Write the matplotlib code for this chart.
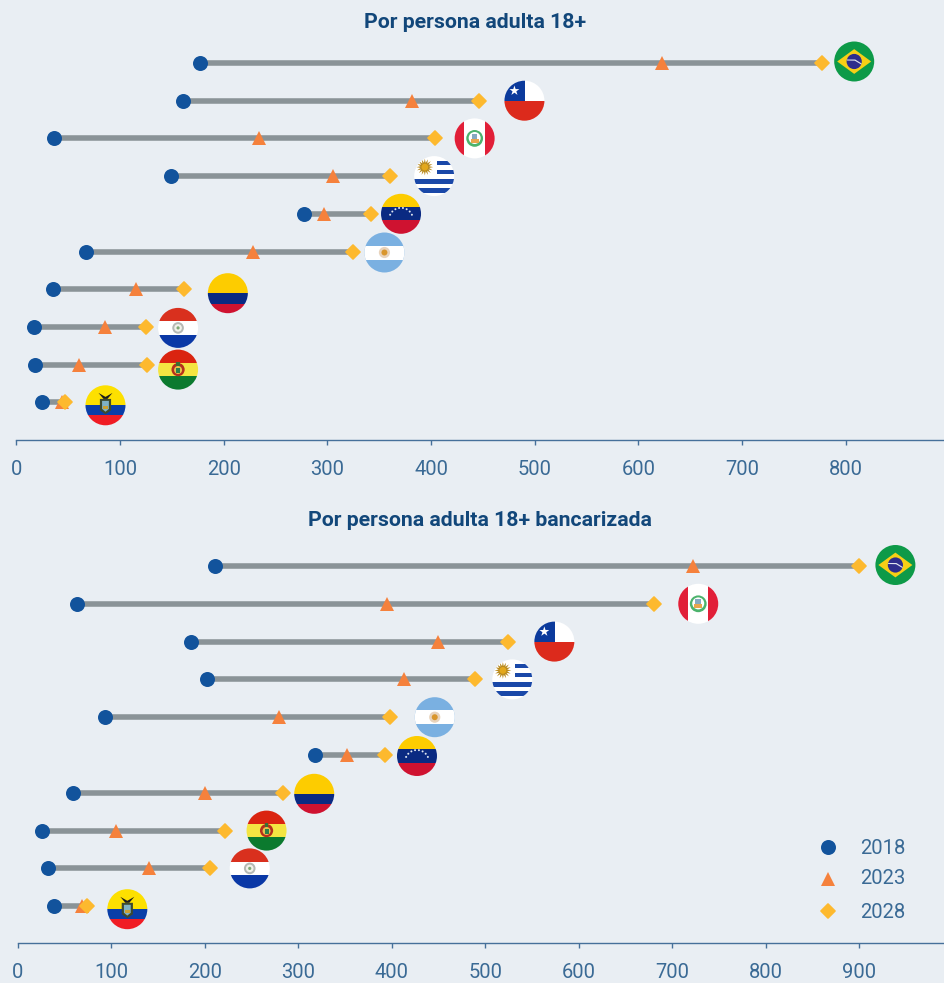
import numpy as np
import matplotlib
matplotlib.use('Agg')
import matplotlib.pyplot as plt
from matplotlib.patches import Circle, Rectangle, Polygon
from matplotlib.transforms import Affine2D
from matplotlib.lines import Line2D
from matplotlib.markers import MarkerStyle

# Panel superior
paises_a = ['br', 'cl', 'pe', 'uy', 've', 'ar', 'co', 'py', 'bo', 'ec']
a_2018 = [177, 161, 36, 149, 277, 67, 35, 17, 18, 25]
a_2023 = [623, 382, 234, 305, 297, 228, 115, 86, 60, 44]
a_2028 = [777, 446, 404, 360, 342, 325, 162, 125, 126, 47]
a_bandera = [808, 490, 442, 403, 371, 355, 204, 156, 156, 86]

# Panel inferior
paises_b = ['br', 'pe', 'cl', 'uy', 'ar', 've', 'co', 'bo', 'py', 'ec']
b_2018 = [211, 63, 185, 202, 93, 318, 59, 26, 32, 39]
b_2023 = [722, 395, 449, 413, 279, 352, 200, 105, 140, 68]
b_2028 = [900, 681, 524, 489, 398, 393, 284, 222, 205, 74]
b_bandera = [939, 728, 574, 529, 446, 427, 317, 266, 248, 117]

ticks_a = [0, 100, 200, 300, 400, 500, 600, 700, 800]
ticks_b = [0, 100, 200, 300, 400, 500, 600, 700, 800, 900]
anios = ['2018', '2023', '2028']
titulo_a = 'Por persona adulta 18+'
titulo_b = 'Por persona adulta 18+ bancarizada'

W, H = 944, 983
FONDO = '#e9eef3'
AZUL = '#12539c'
NARANJA = '#f5813c'
AMARILLO = '#fdb92e'
GRIS = '#8a9397'
TEXTO = '#3a6a95'
TITULO = '#12477a'
EJE = '#46709a'
plt.rcParams['font.family'] = ['Roboto', 'DejaVu Sans']

rombo = MarkerStyle('D', joinstyle='round')


def estrella(cx, cy, ro, ri, n):
	ang = np.pi / 2 + np.arange(2 * n) * np.pi / n
	rad = np.where(np.arange(2 * n) % 2 == 0, ro, ri)
	return np.column_stack([cx + rad * np.cos(ang), cy + rad * np.sin(ang)])


def bandera(ax, pais, x, y, r=20):
	cx, cy = ax.transData.transform((x, y))
	tr = Affine2D().scale(r).translate(cx, cy)
	borde = Circle((0, 0), 1, transform=tr)
	z = [10]

	def poner(p):
		z[0] += 1
		p.set_transform(tr)
		p.set_zorder(z[0])
		p.set_linewidth(0)
		ax.add_patch(p)
		p.set_clip_path(borde)

	def franja(y0, y1, c, x0=-1.1, x1=1.1):
		poner(Rectangle((x0, y0), x1 - x0, y1 - y0, color=c))

	def disco(a, b, rr, c):
		poner(Circle((a, b), rr, color=c))

	if pais == 'br':
		franja(-1.1, 1.1, '#0d9a48')
		poner(Polygon([[-.85, 0], [0, .62], [.85, 0], [0, -.62]], color='#f7cf16'))
		disco(0, 0, .38, '#2e2d8c')
		poner(Polygon([[-.36, .1], [.05, .1], [.37, -.1], [.35, -.15], [.03, .04], [-.37, .05]], color='#dfe4ee'))
	elif pais == 'cl':
		franja(-1.1, 0, '#dc2a1c')
		franja(0, 1.1, '#ffffff')
		franja(0, 1.1, '#0b3a9c', x1=.03)
		poner(Polygon(estrella(-.5, .5, .26, .1, 5), color='#ffffff'))
	elif pais == 'pe':
		franja(-1.1, 1.1, '#ffffff')
		franja(-1.1, 1.1, '#e11f38', x1=-.52)
		franja(-1.1, 1.1, '#e11f38', x0=.5)
		disco(0, 0, .42, '#4cb36c')
		disco(0, .02, .3, '#ffffff')
		franja(-.22, -.02, '#e8a54c', x0=-.2, x1=.2)
		franja(-.02, .22, '#86a9c0', x0=-.14, x1=.14)
	elif pais == 'uy':
		franja(-1.1, 1.1, '#ffffff')
		franja(.57, .78, '#1a48a8', x0=.12)
		franja(.10, .33, '#1a48a8', x0=.12)
		franja(-.37, -.15, '#1a48a8')
		franja(-.83, -.6, '#1a48a8')
		poner(Polygon(estrella(-.47, .45, .42, .22, 16), color='#b98a1e'))
		disco(-.47, .45, .17, '#e3a81c')
	elif pais == 've':
		franja(.33, 1.1, '#fdcc00')
		franja(-.33, .33, '#0a2a82')
		franja(-1.1, -.33, '#cf1230')
		for ang in np.linspace(25, 155, 8):
			a = .6 * np.cos(np.radians(ang))
			b = -.3 + .6 * np.sin(np.radians(ang))
			disco(a, b, .05, '#dfe6f0')
	elif pais == 'ar':
		franja(-1.1, 1.1, '#7ab0e1')
		franja(-.35, .35, '#ffffff')
		disco(0, 0, .28, '#e8d3bc')
		disco(0, 0, .15, '#d9962d')
	elif pais == 'co':
		franja(0, 1.1, '#fdcc00')
		franja(-.52, 0, '#0a2a82')
		franja(-1.1, -.52, '#cf1230')
	elif pais == 'py':
		franja(.33, 1.1, '#d9301e')
		franja(-.33, .33, '#ffffff')
		franja(-1.1, -.33, '#0a38a6')
		disco(0, 0, .29, '#b5b9b5')
		disco(0, 0, .19, '#f1f1ea')
		disco(0, 0, .08, '#7da874')
	elif pais == 'bo':
		franja(.33, 1.1, '#da2410')
		franja(-.33, .33, '#f4e542')
		franja(-1.1, -.33, '#0b7a2e')
		disco(0, 0, .33, '#b5301c')
		disco(0, -.02, .2, '#e7c24c')
		franja(-.18, .08, '#2d7f4a', x0=-.1, x1=.1)
		franja(.2, .4, '#3a6f37', x0=-.08, x1=.08)
	elif pais == 'ec':
		franja(0, 1.1, '#fde000')
		franja(-.5, 0, '#0a3ea8')
		franja(-1.1, -.5, '#f01c24')
		poner(Polygon([[-.35, .62], [0, .42], [.35, .62], [.1, .32], [-.1, .32]], color='#1c1c1c'))
		poner(Polygon([[-.28, .32], [.28, .32], [.28, -.25], [0, -.45], [-.28, -.25]], color='#3d4a2e'))
		poner(Polygon([[-.17, .22], [.17, .22], [.17, -.18], [0, -.32], [-.17, -.18]], color='#7fb2c6'))
		franja(-.2, -.02, '#c9a233', x0=-.13, x1=.13)


def panel(pais, v18, v23, v28, vb, ajuste, ticks, izq, px_u, y_eje, y0_fila, paso, y_sup):
	ax = fig.add_axes([izq / W, 1 - y_eje / H, (W - izq) / W, (y_eje - y_sup) / H])
	ax.set_facecolor('none')
	ax.set_xlim(0, (W - izq) / px_u)
	# el eje y va en filas, fila 0 arriba
	ax.set_ylim((y_eje - y0_fila) / paso, (y_sup - y0_fila) / paso)
	filas = np.arange(len(pais))
	ax.hlines(filas, v18, v28, color=GRIS, lw=4.0, zorder=2)
	ax.plot(v18, filas, 'o', color=AZUL, ms=10.8, mew=0, zorder=3)
	ax.plot(v23, filas, '^', color=NARANJA, ms=10, mew=0, zorder=4)
	ax.plot(v28, filas, ls='', marker=rombo, color=AMARILLO, ms=6.8, mew=1.2, mec=AMARILLO, zorder=5)
	for i, p in enumerate(pais):
		bandera(ax, p, vb[i], i + ajuste[i] / paso)
	for lado in ['top', 'right', 'left']:
		ax.spines[lado].set_visible(False)
	ax.spines['bottom'].set_color(EJE)
	ax.spines['bottom'].set_linewidth(1.0)
	ax.set_yticks([])
	ax.set_xticks(ticks)
	ax.tick_params(axis='x', length=3.6, width=1.0, color=EJE, labelcolor=TEXTO, labelsize=14.5, pad=11)
	return ax


fig = plt.figure(figsize=(W / 100, H / 100), dpi=100, facecolor=FONDO)

panel(paises_a, a_2018, a_2023, a_2028, a_bandera,
	[-1.5, 0, 0, 0, 0, 1, 4, 1, 5, 3], ticks_a, 16.3, 1.037, 439.5, 63, 37.7, 30)
panel(paises_b, b_2018, b_2023, b_2028, b_bandera,
	[-1, 0, 0, 0, 0, 1, 1, 0, 0, 3], ticks_b, 18, 0.9344, 942.5, 566, 37.8, 535)

fig.text(475.5 / W, 1 - 22 / H, titulo_a, ha='center', va='center', color=TITULO, fontsize=15.3, fontweight='bold')
fig.text(480 / W, 1 - 520 / H, titulo_b, ha='center', va='center', color=TITULO, fontsize=15.3, fontweight='bold')

# Leyenda, con el espaciado desigual del original
marcas = [('o', AZUL, 10.8), ('^', NARANJA, 10), (rombo, AMARILLO, 6.8)]
y_marca = [847, 879, 911]
y_texto = [849, 879, 913]
for anio, (m, c, s), ym, yt in zip(anios, marcas, y_marca, y_texto):
	fig.add_artist(Line2D([828 / W], [1 - ym / H], marker=m, color=c, ms=s, mew=1.2 if m is rombo else 0, mec=c, ls='', transform=fig.transFigure))
	fig.text(860 / W, 1 - yt / H, anio, ha='left', va='center', color=TEXTO, fontsize=14.6)

fig.savefig('out.png', dpi=100, facecolor=FONDO)
